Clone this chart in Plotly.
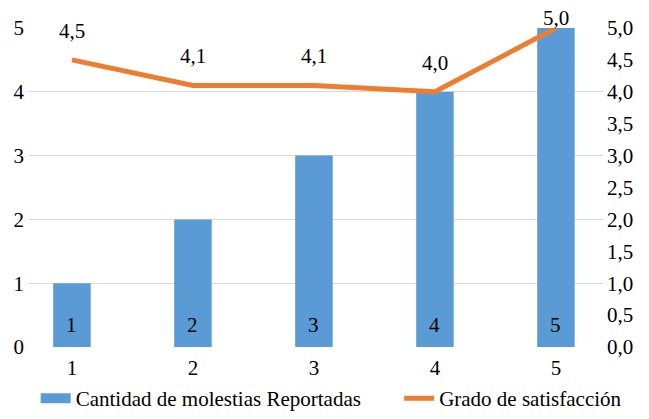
import plotly.graph_objects as go

categories = [1, 2, 3, 4, 5]
molestias = [1, 2, 3, 4, 5]
satisfaccion = [4.5, 4.1, 4.1, 4.0, 5.0]
label_shift = [29, 29, 29, 29, 10]
series_names = ["Cantidad de molestias Reportadas", "Grado de satisfacción"]

FONT = "Liberation Serif"
FS = 21
BLUE = "#5B9BD5"
ORANGE = "#ED7D31"

fig = go.Figure()
fig.add_trace(go.Bar(
    x=categories, y=molestias, name=series_names[0],
    marker=dict(color=BLUE, line=dict(width=0)), width=0.31,
    yaxis="y", showlegend=False,
))
fig.add_trace(go.Scatter(
    x=[None], y=[None], name=series_names[0],
    mode="lines", line=dict(color=BLUE, width=10), yaxis="y", legend="legend",
))
fig.add_trace(go.Scatter(
    x=categories, y=satisfaccion, name=series_names[1],
    mode="lines", line=dict(color=ORANGE, width=5),
    yaxis="y2", cliponaxis=False, legend="legend2",
))
for xv, yv in zip(categories, molestias):
    fig.add_annotation(x=xv, y=0, xref="x", yref="y", text=str(yv), yanchor="middle",
                       showarrow=False, yshift=22, font=dict(family=FONT, size=FS, color="#000"))
for xv, yv, s in zip(categories, satisfaccion, label_shift):
    fig.add_annotation(x=xv, y=yv, xref="x", yref="y2", text=f"{yv:.1f}".replace(".", ","),
                       showarrow=False, yshift=s, font=dict(family=FONT, size=FS, color="#000"))

legend_style = dict(orientation="h", xanchor="left", xref="container",
                    y=0.0, yanchor="bottom", yref="container",
                    font=dict(family=FONT, size=FS), itemwidth=30, bgcolor="rgba(0,0,0,0)")

fig.update_layout(
    width=649, height=419, margin=dict(l=29, r=46, t=28, b=72, autoexpand=False),
    paper_bgcolor="white", plot_bgcolor="white",
    font=dict(family=FONT, size=FS, color="#000"),
    separators=",.",
    showlegend=True,
    xaxis=dict(range=[0.645, 5.389], tickvals=categories, ticktext=[str(c) for c in categories],
               showgrid=False, zeroline=False, showline=False, ticks="", ticklabelstandoff=6,
               tickfont=dict(family=FONT, size=FS)),
    yaxis=dict(range=[0, 5], dtick=1, showgrid=True, gridcolor="#D9D9D9", gridwidth=1,
               zeroline=False, showline=False, ticks="", tickfont=dict(family=FONT, size=FS),
               ticklabelstandoff=4),
    yaxis2=dict(range=[0, 5], dtick=0.5, tickformat=".1f", overlaying="y", side="right",
                showgrid=False, zeroline=False, showline=False, ticks="",
                tickfont=dict(family=FONT, size=FS), ticklabelstandoff=3),
    legend=dict(x=0.055, **legend_style),
    legend2=dict(x=0.615, **legend_style),
)
fig.write_html("out.html", config={"displayModeBar": False},
               post_script="document.body.style.margin='0px';")
